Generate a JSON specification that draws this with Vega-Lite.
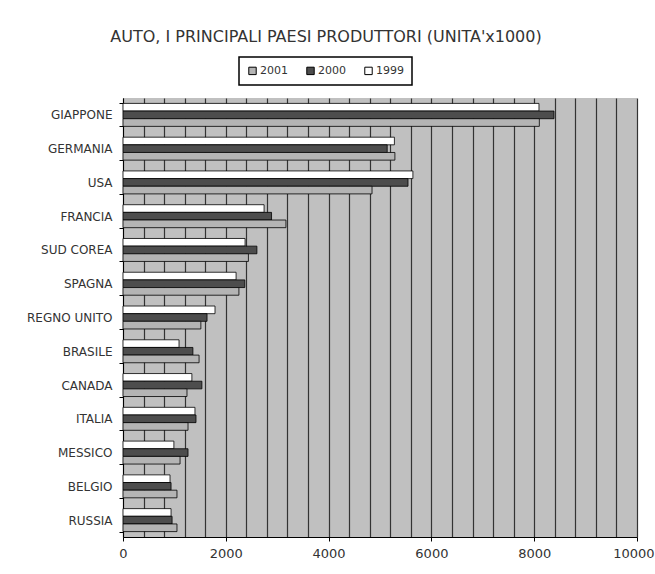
{
  "$schema": "https://vega.github.io/schema/vega-lite/v6.json",
  "width": 514,
  "height": 439,
  "autosize": "none",
  "padding": {"left": 123, "top": 98, "right": 18, "bottom": 37},
  "background": "white",
  "title": {
    "text": "AUTO, I PRINCIPALI PAESI PRODUTTORI (UNITA'x1000)",
    "font": "DejaVu Sans",
    "fontSize": 16,
    "fontWeight": "normal",
    "color": "#333333",
    "anchor": "middle",
    "frame": "group",
    "dx": -54,
    "offset": 11
  },
  "config": {
    "view": {"fill": "#c0c0c0", "stroke": null}
  },
  "data": {
    "values": [
      {"country": "GIAPPONE", "year": "1999", "value": 8093},
      {"country": "GIAPPONE", "year": "2000", "value": 8385},
      {"country": "GIAPPONE", "year": "2001", "value": 8100},
      {"country": "GERMANIA", "year": "1999", "value": 5280},
      {"country": "GERMANIA", "year": "2000", "value": 5140},
      {"country": "GERMANIA", "year": "2001", "value": 5290},
      {"country": "USA", "year": "1999", "value": 5640},
      {"country": "USA", "year": "2000", "value": 5545},
      {"country": "USA", "year": "2001", "value": 4845},
      {"country": "FRANCIA", "year": "1999", "value": 2745},
      {"country": "FRANCIA", "year": "2000", "value": 2890},
      {"country": "FRANCIA", "year": "2001", "value": 3170},
      {"country": "SUD COREA", "year": "1999", "value": 2375},
      {"country": "SUD COREA", "year": "2000", "value": 2605},
      {"country": "SUD COREA", "year": "2001", "value": 2440},
      {"country": "SPAGNA", "year": "1999", "value": 2200},
      {"country": "SPAGNA", "year": "2000", "value": 2370},
      {"country": "SPAGNA", "year": "2001", "value": 2255},
      {"country": "REGNO UNITO", "year": "1999", "value": 1790},
      {"country": "REGNO UNITO", "year": "2000", "value": 1635},
      {"country": "REGNO UNITO", "year": "2001", "value": 1515},
      {"country": "BRASILE", "year": "1999", "value": 1090},
      {"country": "BRASILE", "year": "2000", "value": 1360},
      {"country": "BRASILE", "year": "2001", "value": 1480},
      {"country": "CANADA", "year": "1999", "value": 1340},
      {"country": "CANADA", "year": "2000", "value": 1535},
      {"country": "CANADA", "year": "2001", "value": 1245},
      {"country": "ITALIA", "year": "1999", "value": 1400},
      {"country": "ITALIA", "year": "2000", "value": 1420},
      {"country": "ITALIA", "year": "2001", "value": 1265},
      {"country": "MESSICO", "year": "1999", "value": 990},
      {"country": "MESSICO", "year": "2000", "value": 1265},
      {"country": "MESSICO", "year": "2001", "value": 1110},
      {"country": "BELGIO", "year": "1999", "value": 915},
      {"country": "BELGIO", "year": "2000", "value": 935},
      {"country": "BELGIO", "year": "2001", "value": 1050},
      {"country": "RUSSIA", "year": "1999", "value": 935},
      {"country": "RUSSIA", "year": "2000", "value": 955},
      {"country": "RUSSIA", "year": "2001", "value": 1050}
    ]
  },
  "mark": {"type": "bar", "stroke": "#000000", "strokeWidth": 0.8},
  "encoding": {
    "y": {
      "field": "country",
      "type": "nominal",
      "sort": ["GIAPPONE", "GERMANIA", "USA", "FRANCIA", "SUD COREA", "SPAGNA", "REGNO UNITO", "BRASILE", "CANADA", "ITALIA", "MESSICO", "BELGIO", "RUSSIA"],
      "scale": {"paddingInner": 0.32, "paddingOuter": 0.16},
      "axis": {
        "title": null,
        "grid": false,
        "tickBand": "extent",
        "tickSize": 4,
        "tickColor": "#000000",
        "domainColor": "#000000",
        "labelFont": "DejaVu Sans",
        "labelFontSize": 12,
        "labelColor": "#333333",
        "labelPadding": 7
      }
    },
    "yOffset": {"field": "year", "sort": ["1999", "2000", "2001"], "scale": {"paddingInner": 0, "paddingOuter": 0}},
    "x": {
      "field": "value",
      "type": "quantitative",
      "scale": {"domain": [0, 10000], "nice": false},
      "axis": {
        "title": null,
        "values": [0, 400, 800, 1200, 1600, 2000, 2400, 2800, 3200, 3600, 4000, 4400, 4800, 5200, 5600, 6000, 6400, 6800, 7200, 7600, 8000, 8400, 8800, 9200, 9600, 10000],
        "format": "d",
        "labelExpr": "datum.value % 2000 === 0 ? datum.label : ''",
        "labelOverlap": false,
        "labelFlush": false,
        "labelAlign": {"condition": {"test": "datum.value === 10000", "value": "right"}, "value": "center"},
        "labelOffset": {"condition": {"test": "datum.value === 10000", "value": 17}, "value": 0},
        "grid": true,
        "gridColor": "#333333",
        "gridWidth": 1.2,
        "tickOpacity": {"condition": {"test": "datum.value % 2000 === 0", "value": 1}, "value": 0},
        "tickSize": 4,
        "tickColor": "#000000",
        "domainColor": "#000000",
        "labelFont": "DejaVu Sans",
        "labelFontSize": 13,
        "labelColor": "#333333",
        "labelPadding": 6
      }
    },
    "color": {
      "field": "year",
      "type": "nominal",
      "scale": {"domain": ["2001", "2000", "1999"], "range": ["#b4b4b4", "#4d4d4d", "#ffffff"]},
      "legend": {
        "title": null,
        "orient": "none",
        "legendX": 116,
        "legendY": -41,
        "direction": "horizontal",
        "strokeColor": "#000000",
        "fillColor": "#ffffff",
        "padding": 8,
        "symbolType": "square",
        "symbolSize": 55,
        "symbolStrokeColor": "#000000",
        "symbolStrokeWidth": 1,
        "symbolOpacity": 1,
        "labelFont": "DejaVu Sans",
        "labelFontSize": 11,
        "labelColor": "#333333",
        "labelOffset": 2,
        "columnPadding": 16,
        "encode": {"legend": {"update": {"strokeWidth": {"value": 1.5}}}}
      }
    }
  }
}
